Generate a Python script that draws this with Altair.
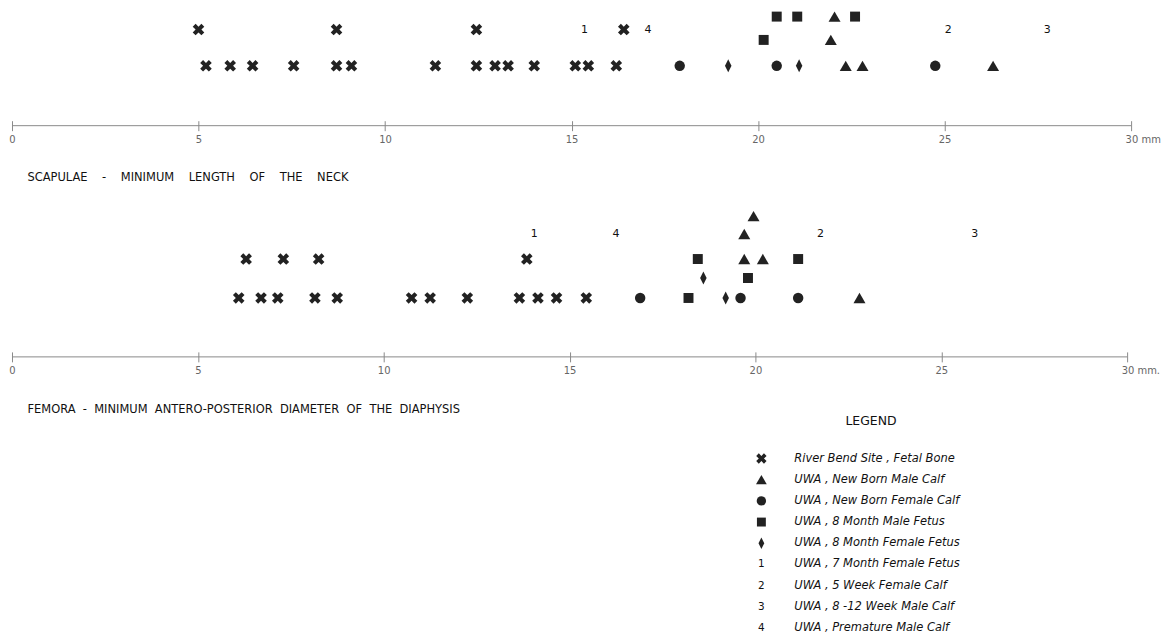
import altair as alt
import pandas as pd

FONT = "DejaVu Sans"
INK = "#222222"
NB = "\u00a0"

# ---------------- data ----------------
legend_labels = [
    "River Bend Site , Fetal Bone",
    "UWA , New Born Male Calf",
    "UWA , New Born Female Calf",
    "UWA , 8 Month Male Fetus",
    "UWA , 8 Month Female Fetus",
    "UWA , 7 Month Female Fetus",
    "UWA , 5 Week Female Calf",
    "UWA , 8 -12 Week Male Calf",
    "UWA , Premature Male Calf",
]
legend_keys = ["X", "tri", "circle", "square", "diamond", "1", "2", "3", "4"]
tick_values = [0, 5, 10, 15, 20, 25, 30]
scap_title_words = ["SCAPULAE", "-", "MINIMUM", "LENGTH", "OF", "THE", "NECK"]
fem_title_words = ["FEMORA", "-", "MINIMUM", "ANTERO-POSTERIOR", "DIAMETER", "OF", "THE", "DIAPHYSIS"]

# Scapulae - minimum length of the neck (mm) and stacking level
scap_cross_mm = [5.2, 5.85, 6.45, 7.55, 8.7, 9.1, 11.35, 12.45, 12.95, 13.3, 14.0, 15.1, 15.45, 16.2, 5.0, 8.7, 12.45, 16.4]
scap_cross_lv = [0, 0, 0, 0, 0, 0, 0, 0, 0, 0, 0, 0, 0, 0, 1.4, 1.4, 1.4, 1.4]
scap_tri_mm = [22.35, 22.8, 26.3, 21.95, 22.05]
scap_tri_lv = [0, 0, 0, 1, 1.9]
scap_circ_mm = [17.9, 20.5, 24.75]
scap_circ_lv = [0, 0, 0]
scap_sq_mm = [20.15, 20.5, 21.05, 22.6]
scap_sq_lv = [1, 1.9, 1.9, 1.9]
scap_dia_mm = [19.2, 21.1]
scap_dia_lv = [0, 0]
scap_num_key = ["1", "2", "3", "4"]
scap_num_mm = [15.35, 25.1, 27.75, 17.05]
scap_num_lv = [1.4, 1.4, 1.4, 1.4]

# Femora - minimum antero-posterior diameter of the diaphysis (mm)
fem_cross_mm = [6.1, 6.7, 7.15, 8.15, 8.75, 10.75, 11.25, 12.25, 13.65, 14.15, 14.65, 15.45, 6.3, 7.3, 8.25, 13.85]
fem_cross_lv = [0, 0, 0, 0, 0, 0, 0, 0, 0, 0, 0, 0, 1.95, 1.95, 1.95, 1.95]
fem_tri_mm = [22.8, 19.7, 20.2, 19.7, 19.95]
fem_tri_lv = [0, 1.95, 1.95, 3.2, 4.1]
fem_circ_mm = [16.9, 19.6, 21.15]
fem_circ_lv = [0, 0, 0]
fem_sq_mm = [18.2, 19.8, 18.45, 21.15]
fem_sq_lv = [0, 1, 1.95, 1.95]
fem_dia_mm = [19.2, 18.6]
fem_dia_lv = [0, 1]
fem_num_key = ["1", "2", "3", "4"]
fem_num_mm = [14.05, 21.75, 25.9, 16.25]
fem_num_lv = [3.2, 3.2, 3.2, 3.2]

# ---------------- styling ----------------
X_PATH = "M-0.5,-1L0,-0.5L0.5,-1L1,-0.5L0.5,0L1,0.5L0.5,1L0,0.5L-0.5,1L-1,0.5L-0.5,0L-1,-0.5Z"
DIAMOND_PATH = "M0,-1L0.5,0L0,1L-0.5,0Z"
SYMBOLS = {
    "X": (X_PATH, 135),
    "tri": ("triangle-up", 145),
    "circle": ("circle", 110),
    "square": ("square", 100),
    "diamond": (DIAMOND_PATH, 170),
}


def frame(mm, lv, key):
    return pd.DataFrame({"mm": mm, "level": lv, "key": key})


def make_axis(title, title_y, last_label):
    return alt.Axis(
        values=tick_values, grid=False, domain=False, offset=-5,
        tickSize=10, tickColor="#8a8a8a", tickWidth=1,
        labelExpr="datum.value == 30 ? '" + last_label + "' : datum.label",
        labelAlign={"condition": {"test": "datum.value == 30", "value": "left"}, "value": "center"},
        labelOffset={"condition": {"test": "datum.value == 30", "value": -6}, "value": 0},
        labelColor="#666666", labelFontSize=10, labelPadding=4, labelFont=FONT,
        labelFlush=False, labelOverlap=False,
        title=title, titleAnchor="start", titleAlign="left", titleX=15, titleY=title_y,
        titleBaseline="middle", titleFontSize=11.5, titleFontWeight="normal",
        titleColor="#111111", titleFont=FONT,
    )


def panel(groups, numbers, width, height, ydom, title, title_y, last_label, legend=False):
    x_enc = alt.X("mm:Q", scale=alt.Scale(domain=[0, 30]), axis=make_axis(title, title_y, last_label))
    y_enc = alt.Y("level:Q", scale=alt.Scale(domain=ydom), axis=None)
    layers = [
        alt.Chart(pd.DataFrame({"a": [0]})).mark_rule(color="#8a8a8a", strokeWidth=1).encode(
            x=alt.datum(0), x2=alt.datum(30), y=alt.value(height)
        )
    ]
    for key, df in groups.items():
        shape, size = SYMBOLS[key]
        layers.append(
            alt.Chart(df).mark_point(shape=shape, size=size, filled=True, color=INK, opacity=1, strokeWidth=0)
            .encode(x=x_enc, y=y_enc)
        )
    layers.append(
        alt.Chart(numbers).mark_text(font=FONT, fontSize=11, color="#111111", baseline="middle")
        .encode(x=x_enc, y=y_enc, text="key:N")
    )
    if legend:
        leg = pd.DataFrame({"label": legend_labels, "key": legend_keys})
        ly = alt.Y("label:N", scale=alt.Scale(domain=legend_labels, range=[258, 428], padding=0), axis=None)
        layers.append(
            alt.Chart(pd.DataFrame({"t": ["LEGEND"]})).mark_text(
                font=FONT, fontSize=12.5, color="#111111", align="center", baseline="middle"
            ).encode(x=alt.value(862), y=alt.value(220), text="t:N")
        )
        for key, (shape, size) in SYMBOLS.items():
            layers.append(
                alt.Chart(leg[leg.key == key]).mark_point(
                    shape=shape, size=size * 0.8, filled=True, color=INK, opacity=1, strokeWidth=0
                ).encode(x=alt.value(752), y=ly)
            )
        layers.append(
            alt.Chart(leg[leg.key.isin(["1", "2", "3", "4"])]).mark_text(
                font=FONT, fontSize=10.5, color="#111111", align="center", baseline="middle"
            ).encode(x=alt.value(752), y=ly, text="key:N")
        )
        layers.append(
            alt.Chart(leg).mark_text(
                font=FONT, fontSize=11.5, fontStyle="italic", color="#111111", align="left", baseline="middle"
            ).encode(x=alt.value(785), y=ly, text="label:N")
        )
    ch = alt.layer(*layers).properties(width=width, height=height)
    ch = ch.resolve_scale(y="independent")
    return ch


top_groups = {
    "X": frame(scap_cross_mm, scap_cross_lv, "X"),
    "tri": frame(scap_tri_mm, scap_tri_lv, "tri"),
    "circle": frame(scap_circ_mm, scap_circ_lv, "circle"),
    "square": frame(scap_sq_mm, scap_sq_lv, "square"),
    "diamond": frame(scap_dia_mm, scap_dia_lv, "diamond"),
}
top_nums = frame(scap_num_mm, scap_num_lv, scap_num_key)

bot_groups = {
    "X": frame(fem_cross_mm, fem_cross_lv, "X"),
    "tri": frame(fem_tri_mm, fem_tri_lv, "tri"),
    "circle": frame(fem_circ_mm, fem_circ_lv, "circle"),
    "square": frame(fem_sq_mm, fem_sq_lv, "square"),
    "diamond": frame(fem_dia_mm, fem_dia_lv, "diamond"),
}
bot_nums = frame(fem_num_mm, fem_num_lv, fem_num_key)

scap_title = (" " + NB + NB + NB).join(scap_title_words)
fem_title = (" " + NB).join(fem_title_words)

top = panel(top_groups, top_nums, 1123, 117, [-2.31, 2.19], scap_title, 57, "30 mm")
bottom = panel(bot_groups, bot_nums, 1119, 156, [-2.95, 4.835], fem_title, 58, "30 mm.", legend=True)

chart = alt.vconcat(top, bottom, spacing=18).properties(padding=0).configure_view(stroke=None)

chart.save("out.html", embed_options={"renderer": "svg", "actions": False})
